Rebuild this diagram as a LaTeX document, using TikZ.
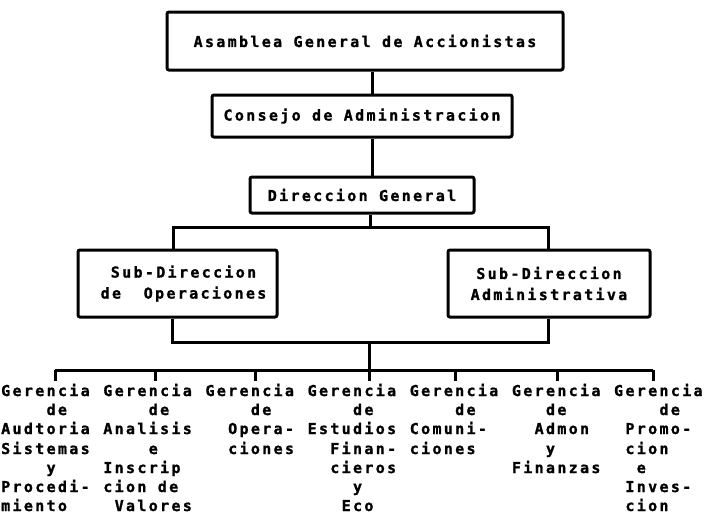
\documentclass[tikz,border=0pt]{standalone}
\usepackage{fontspec}
\newfontfamily\dotfont[LetterSpace=15.5,FakeBold=1.2]{DejaVu Sans Mono}
\newcommand\dotstyle{\dotfont\bfseries\fontsize{15pt}{20pt}\selectfont}
\newcommand\putword[4]{\node[word] (#4) at ({11.35*#1+1},#2) {#3};}
\begin{document}
\begin{tikzpicture}[x=1pt,y=-1pt,
  box/.style={draw,line width=3pt,rounded corners=2pt,inner sep=0pt,font=\dotstyle,align=center},
  conn/.style={line width=3pt},
  word/.style={anchor=base west,inner sep=0pt,font=\dotstyle}]
\useasboundingbox (0,0) rectangle (704,514);
\fill[white] (0,0) rectangle (704,514);
% boxes
\node[box,minimum width=396pt,minimum height=58pt] (asm) at (365,41) {Asamblea General de Accionistas};
\node[box,minimum width=300pt,minimum height=42pt] (cons) at (362,116) {Consejo de Administracion};
\node[box,minimum width=224pt,minimum height=36pt] (dir) at (362,195) {Direccion General};
\node[box,minimum width=199pt,minimum height=67pt] (sop) at (177.5,283.5) {\hspace*{12pt}Sub-Direccion\\[1pt]\hspace*{12pt}de\ \ Operaciones};
\node[box,minimum width=202pt,minimum height=67pt] (sad) at (549,283.5) {Sub-Direccion\\[1pt]Administrativa};
% connectors
\coordinate (sp1) at (372,0);
\draw[conn] (asm.south -| sp1) -- (cons.north -| sp1);
\draw[conn] (cons.south -| sp1) -- (dir.north -| sp1);
\coordinate (j1) at (370,227);
\coordinate (l1a) at (173,227);
\coordinate (l1b) at (548,227);
\draw[conn] (dir.south -| j1) -- (j1);
\draw[conn] (sop.north -| l1a) -- (l1a) -- (l1b) -- (sad.north -| l1b);
\coordinate (j2) at (369,342);
\coordinate (l2a) at (172,342);
\coordinate (l2b) at (548,342);
\draw[conn] (sop.south -| l2a) -- (l2a) -- (l2b) -- (sad.south -| l2b);
\coordinate (j3) at (369,370);
\draw[conn] (j2) -- (j3);
% column texts
\def\ra{396}\def\rb{415}\def\rc{434}\def\rd{454}\def\re{473}\def\rf{492}\def\rg{511}
\putword{0}{\ra}{Gerencia}{g1}
\putword{4}{\rb}{de}{d1}
\putword{0}{\rc}{Audtoria}{a1}
\putword{0}{\rd}{Sistemas}{a2}
\putword{4}{\re}{y}{a3}
\putword{0}{\rf}{Procedi-}{a4}
\putword{0}{\rg}{miento}{a5}
\putword{9}{\ra}{Gerencia}{g2}
\putword{13}{\rb}{de}{d2}
\putword{9}{\rc}{Analisis}{b1}
\putword{13}{\rd}{e}{b2}
\putword{9}{\re}{Inscrip}{b3}
\putword{9}{\rf}{cion de}{b4}
\putword{10}{\rg}{Valores}{b5}
\putword{18}{\ra}{Gerencia}{g3}
\putword{22}{\rb}{de}{d3}
\putword{20}{\rc}{Opera-}{c1}
\putword{20}{\rd}{ciones}{c2}
\putword{27}{\ra}{Gerencia}{g4}
\putword{31}{\rb}{de}{d4}
\putword{27}{\rc}{Estudios}{e1}
\putword{29}{\rd}{Finan-}{e2}
\putword{29}{\re}{cieros}{e3}
\putword{31}{\rf}{y}{e4}
\putword{30}{\rg}{Eco}{e5}
\putword{36}{\ra}{Gerencia}{g5}
\putword{40}{\rb}{de}{d5}
\putword{36}{\rc}{Comuni-}{f1}
\putword{36}{\rd}{ciones}{f2}
\putword{45}{\ra}{Gerencia}{g6}
\putword{48}{\rb}{de}{d6}
\putword{47}{\rc}{Admon}{h1}
\putword{48}{\rd}{y}{h2}
\putword{45}{\re}{Finanzas}{h3}
\putword{54}{\ra}{Gerencia}{g7}
\putword{58}{\rb}{de}{d7}
\putword{55}{\rc}{Promo-}{k1}
\putword{55}{\rd}{cion}{k2}
\putword{56}{\re}{e}{k3}
\putword{55}{\rf}{Inves-}{k4}
\putword{55}{\rg}{cion}{k5}
% distribution line and ticks
\coordinate (t1) at (55,370);
\coordinate (t2) at (155,370);
\coordinate (t3) at (255,370);
\coordinate (t4) at (369,370);
\coordinate (t5) at (455,370);
\coordinate (t6) at (557,370);
\coordinate (t7) at (653,370);
\draw[conn] (t1) -- (t7);
\draw[conn,shorten >=3pt] (t1) -- (t1 |- g1.north);
\draw[conn,shorten >=3pt] (t2) -- (t2 |- g2.north);
\draw[conn,shorten >=3pt] (t3) -- (t3 |- g3.north);
\draw[conn,shorten >=3pt] (t4) -- (t4 |- g4.north);
\draw[conn,shorten >=3pt] (t5) -- (t5 |- g5.north);
\draw[conn,shorten >=3pt] (t6) -- (t6 |- g6.north);
\draw[conn,shorten >=3pt] (t7) -- (t7 |- g7.north);
\end{tikzpicture}
\end{document}
